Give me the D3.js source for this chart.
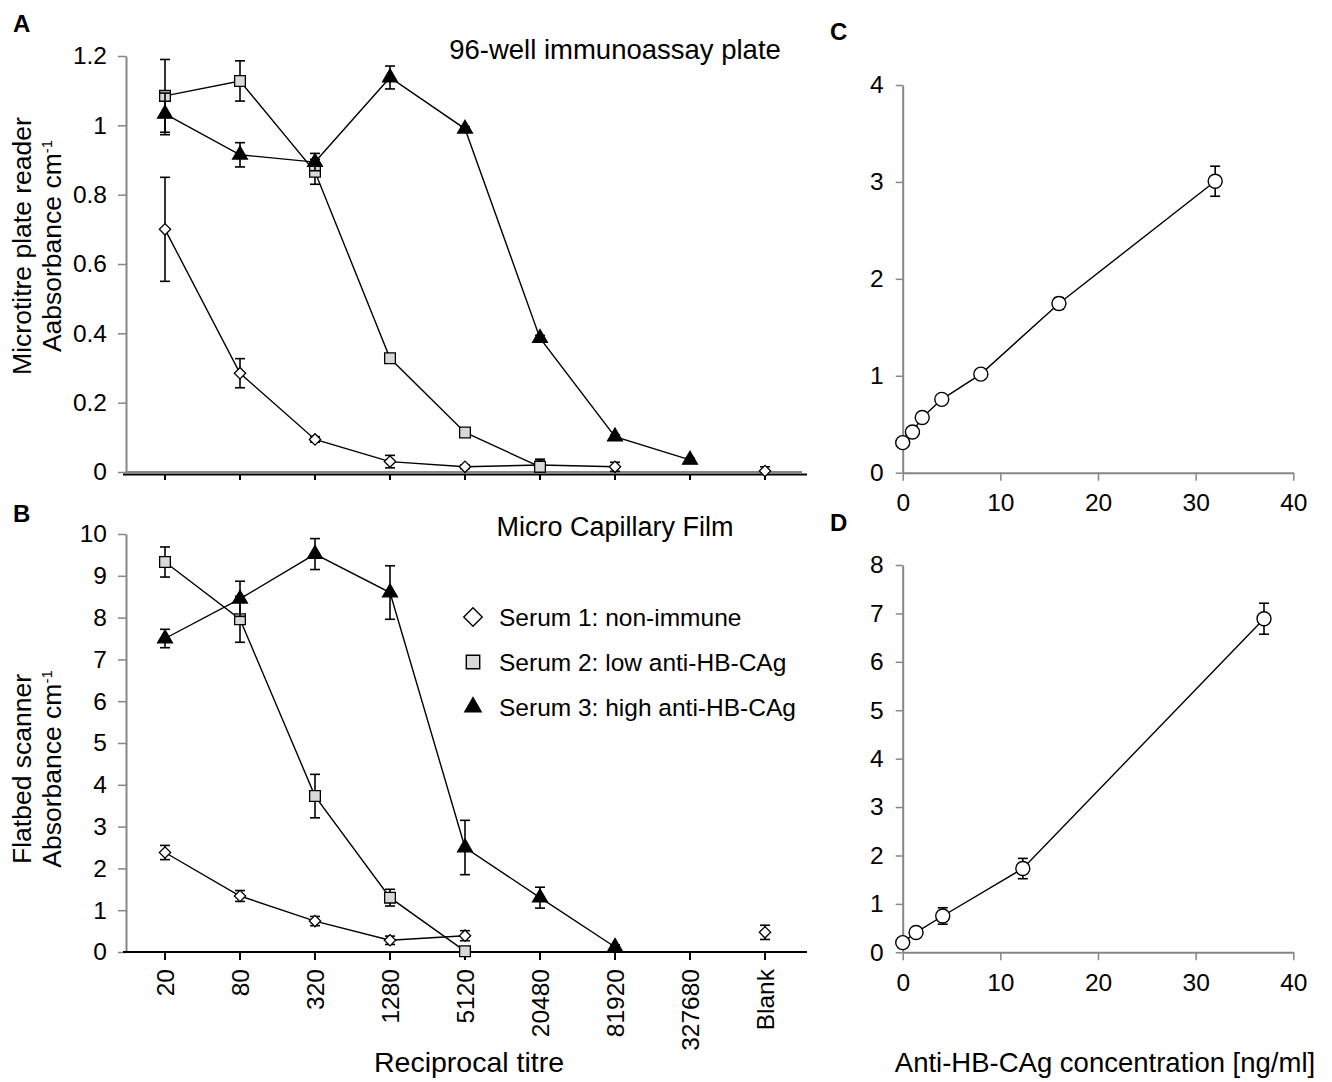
<!DOCTYPE html>
<html>
<head>
<meta charset="utf-8">
<script src="https://cdn.jsdelivr.net/npm/d3@7"></script>
<style>
  body { margin: 0; background: #fff; }
  svg text { font-family: Arial, "Liberation Sans", sans-serif; fill: #000; }
</style>
</head>
<body>
<div id="chart-area"></div>
<script>
// ---- data ----
const titres = ["20", "80", "320", "1280", "5120", "20480", "81920", "327680", "Blank"];

// A: 96-well immunoassay plate (absorbance)
const plateSerum1 = [0.70, 0.285, 0.094, 0.030, 0.015, 0.020, 0.015, null, 0.003];
const plateSerum1Err = [0.15, 0.042, 0.008, 0.018, 0.005, 0.017, 0.013, null, 0.012];
const plateSerum2 = [1.085, 1.128, 0.866, 0.328, 0.114, 0.015, null, null, null];
const plateSerum2Err = [0.105, 0.058, 0.036, 0.008, 0.006, 0.02, null, null, null];
const plateSerum3 = [1.033, 0.915, 0.894, 1.138, 0.99, 0.386, 0.102, 0.035, null];
const plateSerum3Err = [0.06, 0.035, 0.025, 0.033, 0.006, 0.008, 0.005, 0.005, null];

// B: micro capillary film (absorbance)
const filmSerum1 = [2.38, 1.34, 0.74, 0.28, 0.39, null, null, null, 0.47];
const filmSerum1Err = [0.17, 0.13, 0.11, 0.1, 0.12, null, null, null, 0.17];
const filmSerum2 = [9.33, 7.96, 3.73, 1.30, 0.02, null, null, null, null];
const filmSerum2Err = [0.36, 0.55, 0.52, 0.2, 0.05, null, null, null, null];
const filmSerum3 = [7.5, 8.45, 9.52, 8.6, 2.5, 1.3, 0.12, null, null];
const filmSerum3Err = [0.22, 0.42, 0.37, 0.64, 0.65, 0.25, 0.05, null, null];

// C and D: standard curves
const plateConc = [0, 1, 2, 4, 8, 16, 32];
const plateStd = [0.31, 0.42, 0.57, 0.757, 1.017, 1.746, 3.007];
const plateStdErr = [0.01, 0.01, 0.01, 0.01, 0.01, 0.06, 0.155];
const filmConc = [0, 1.37, 4.1, 12.3, 37];
const filmStd = [0.2, 0.41, 0.75, 1.73, 6.89];
const filmStdErr = [0.1, 0.05, 0.17, 0.21, 0.32];

const legendLabels = ["Serum 1: non-immune", "Serum 2: low anti-HB-CAg", "Serum 3: high anti-HB-CAg"];

// ---- drawing ----
const width = 1332, height = 1082;
const svg = d3.select("#chart-area")
    .append("svg")
    .attr("width", width)
    .attr("height", height);

const grey = "#868686";
const tickFont = 24.5;

const x = d3.scalePoint()
    .domain(titres)
    .range([127.5, 802.5])
    .padding(0.5);

const symbols = {
    diamond: { type: d3.symbolSquare, size: 64, rotate: 45, fill: "#fff" },
    square: { type: d3.symbolSquare, size: 115, rotate: 0, fill: "#d9d9d9" },
    triangle: { type: d3.symbolTriangle, size: 95, rotate: 0, fill: "#000" }
};

function styleAxis(g, color) {
    g.selectAll("path.domain").attr("stroke", color).attr("stroke-width", 2);
    g.selectAll(".tick line").attr("stroke", color).attr("stroke-width", 1.5);
    g.selectAll(".tick text")
        .attr("font-size", tickFont)
        .attr("font-family", "Arial, 'Liberation Sans', sans-serif")
        .attr("fill", "#000");
}

function drawErrors(g, pts, xs, ys) {
    const eb = g.append("g").attr("stroke", "#000").attr("stroke-width", 1.6);
    pts.filter(d => d.v != null && d.e != null).forEach(d => {
        const cx = xs(d.k), top = ys(d.v + d.e), bot = ys(Math.max(d.v - d.e, 0));
        eb.append("line").attr("x1", cx).attr("x2", cx).attr("y1", top).attr("y2", bot);
        eb.append("line").attr("x1", cx - 5).attr("x2", cx + 5).attr("y1", top).attr("y2", top);
        eb.append("line").attr("x1", cx - 5).attr("x2", cx + 5).attr("y1", bot).attr("y2", bot);
    });
}

function drawSeries(g, vals, errs, ys, sym) {
    const pts = titres.map((k, i) => ({ k: k, v: vals[i], e: errs[i], i: i }));
    // line: connect consecutive defined points, Blank stays separate
    const line = d3.line()
        .defined(d => d.v != null && d.k !== "Blank")
        .x(d => x(d.k))
        .y(d => ys(d.v));
    g.append("path")
        .datum(pts)
        .attr("d", line)
        .attr("fill", "none")
        .attr("stroke", "#000")
        .attr("stroke-width", 1.4);
    drawErrors(g, pts, x, ys);
    const s = symbols[sym];
    g.selectAll(null)
        .data(pts.filter(d => d.v != null))
        .enter()
        .append("path")
        .attr("d", d3.symbol().type(s.type).size(s.size))
        .attr("transform", d => "translate(" + x(d.k) + "," + ys(d.v) + ") rotate(" + s.rotate + ")")
        .attr("fill", s.fill)
        .attr("stroke", "#000")
        .attr("stroke-width", 1.3);
}

function yTitle(lines, cy) {
    const xs = [31, 61];
    lines.forEach((ln, i) => {
        const t = svg.append("text")
            .attr("transform", "translate(" + xs[i] + "," + cy + ") rotate(-90)")
            .attr("text-anchor", "middle")
            .attr("font-size", 26.5);
        t.append("tspan").text(ln.text);
        if (ln.sup) {
            t.append("tspan").text(ln.sup).attr("font-size", 15).attr("dy", "-0.6em");
        }
    });
}

function panelLetter(txt, px, py) {
    svg.append("text").attr("x", px).attr("y", py)
        .attr("font-size", 24).attr("font-weight", "bold").text(txt);
}

// ---------- Panel A ----------
const yA = d3.scaleLinear().domain([0, 1.2]).range([472, 56]);
const gA = svg.append("g");

gA.append("line").attr("x1", 126).attr("x2", 802).attr("y1", yA(0)).attr("y2", yA(0))
    .attr("stroke", grey).attr("stroke-width", 2);
gA.append("line").attr("x1", 123).attr("x2", 807).attr("y1", yA(0) + 2.5).attr("y2", yA(0) + 2.5)
    .attr("stroke", "#000").attr("stroke-width", 2);
gA.selectAll(null).data(titres).enter().append("line")
    .attr("x1", d => x(d)).attr("x2", d => x(d))
    .attr("y1", yA(0) + 2.5).attr("y2", yA(0) + 8)
    .attr("stroke", "#000").attr("stroke-width", 2);

const yAxisA = gA.append("g")
    .attr("transform", "translate(126,0)")
    .call(d3.axisLeft(yA)
        .tickValues([0, 0.2, 0.4, 0.6, 0.8, 1, 1.2])
        .tickFormat(d => String(+d.toFixed(1)))
        .tickSize(8).tickSizeOuter(0).tickPadding(11));
styleAxis(yAxisA, grey);

drawSeries(gA, plateSerum1, plateSerum1Err, yA, "diamond");
drawSeries(gA, plateSerum2, plateSerum2Err, yA, "square");
drawSeries(gA, plateSerum3, plateSerum3Err, yA, "triangle");

svg.append("text").attr("x", 615).attr("y", 59).attr("text-anchor", "middle")
    .attr("font-size", 27.5).text("96-well immunoassay plate");
panelLetter("A", 13, 32);
yTitle([{ text: "Microtitre plate reader" }, { text: "Aabsorbance cm", sup: "-1" }], 246);

// ---------- Panel B ----------
const yB = d3.scaleLinear().domain([0, 10]).range([952, 534]);
const gB = svg.append("g");

const yAxisB = gB.append("g")
    .attr("transform", "translate(126,0)")
    .call(d3.axisLeft(yB)
        .tickValues(d3.range(0, 11))
        .tickSize(8).tickSizeOuter(0).tickPadding(11));
styleAxis(yAxisB, grey);

gB.append("line").attr("x1", 123).attr("x2", 807).attr("y1", yB(0)).attr("y2", yB(0))
    .attr("stroke", "#000").attr("stroke-width", 2);
gB.selectAll(null).data(titres).enter().append("line")
    .attr("x1", d => x(d)).attr("x2", d => x(d))
    .attr("y1", yB(0) + 1).attr("y2", yB(0) + 8)
    .attr("stroke", "#000").attr("stroke-width", 2);
gB.selectAll(null).data(titres).enter().append("text")
    .attr("transform", d => "translate(" + x(d) + "," + (yB(0) + 17) + ") rotate(-90)")
    .attr("text-anchor", "end")
    .attr("dy", "0.35em")
    .attr("font-size", tickFont)
    .text(d => d);

drawSeries(gB, filmSerum1, filmSerum1Err, yB, "diamond");
drawSeries(gB, filmSerum2, filmSerum2Err, yB, "square");
drawSeries(gB, filmSerum3, filmSerum3Err, yB, "triangle");

svg.append("text").attr("x", 615).attr("y", 536).attr("text-anchor", "middle")
    .attr("font-size", 27).text("Micro Capillary Film");
panelLetter("B", 13, 522);
yTitle([{ text: "Flatbed scanner" }, { text: "Absorbance cm", sup: "-1" }], 769);

// legend
const legendSyms = [
    { type: d3.symbolSquare, size: 170, rotate: 45, fill: "#fff" },
    { type: d3.symbolSquare, size: 180, rotate: 0, fill: "#d9d9d9" },
    { type: d3.symbolTriangle, size: 115, rotate: 0, fill: "#000" }
];
const legend = svg.append("g");
legendLabels.forEach((lab, i) => {
    const ly = 617 + i * 45;
    const s = legendSyms[i];
    legend.append("path")
        .attr("d", d3.symbol().type(s.type).size(s.size))
        .attr("transform", "translate(473," + ly + ") rotate(" + s.rotate + ")")
        .attr("fill", s.fill).attr("stroke", "#000").attr("stroke-width", 1.4);
    legend.append("text").attr("x", 499).attr("y", ly + 8.5)
        .attr("font-size", 24.5).text(lab);
});

svg.append("text").attr("x", 469).attr("y", 1072).attr("text-anchor", "middle")
    .attr("font-size", 28.5).text("Reciprocal titre");

// ---------- Panels C and D ----------
function drawStd(conc, vals, errs, ys, yTicks, xAxisY) {
    const xs = d3.scaleLinear().domain([0, 40]).range([902.7, 1293.3]);
    const g = svg.append("g");
    const ya = g.append("g")
        .attr("transform", "translate(902.7,0)")
        .call(d3.axisLeft(ys).tickValues(yTicks).tickFormat(d3.format("d"))
            .tickSize(7).tickSizeOuter(0).tickPadding(12));
    styleAxis(ya, grey);
    const xa = g.append("g")
        .attr("transform", "translate(0," + xAxisY + ")")
        .call(d3.axisBottom(xs).tickValues([0, 10, 20, 30, 40]).tickSize(8).tickSizeOuter(0).tickPadding(13));
    styleAxis(xa, grey);

    const pts = conc.map((c, i) => ({ k: c, v: vals[i], e: errs[i] }));
    g.append("path")
        .datum(pts)
        .attr("d", d3.line().x(d => xs(d.k)).y(d => ys(d.v)))
        .attr("fill", "none").attr("stroke", "#000").attr("stroke-width", 1.4);
    drawErrors(g, pts, xs, ys);
    g.selectAll("circle.pt")
        .data(pts)
        .enter()
        .append("circle")
        .attr("class", "pt")
        .attr("cx", d => xs(d.k))
        .attr("cy", d => ys(d.v))
        .attr("r", 7)
        .attr("fill", "#fff").attr("stroke", "#000").attr("stroke-width", 1.4);
}

const yC = d3.scaleLinear().domain([0, 4]).range([472.7, 85]);
drawStd(plateConc, plateStd, plateStdErr, yC, [0, 1, 2, 3, 4], 472.7);
panelLetter("C", 830, 40);

const yD = d3.scaleLinear().domain([0, 8]).range([952.3, 565]);
drawStd(filmConc, filmStd, filmStdErr, yD, d3.range(0, 9), 952.3);
panelLetter("D", 830, 531);

svg.append("text").attr("x", 1105).attr("y", 1072).attr("text-anchor", "middle")
    .attr("font-size", 27.5).text("Anti-HB-CAg concentration [ng/ml]");
</script>
</body>
</html>
